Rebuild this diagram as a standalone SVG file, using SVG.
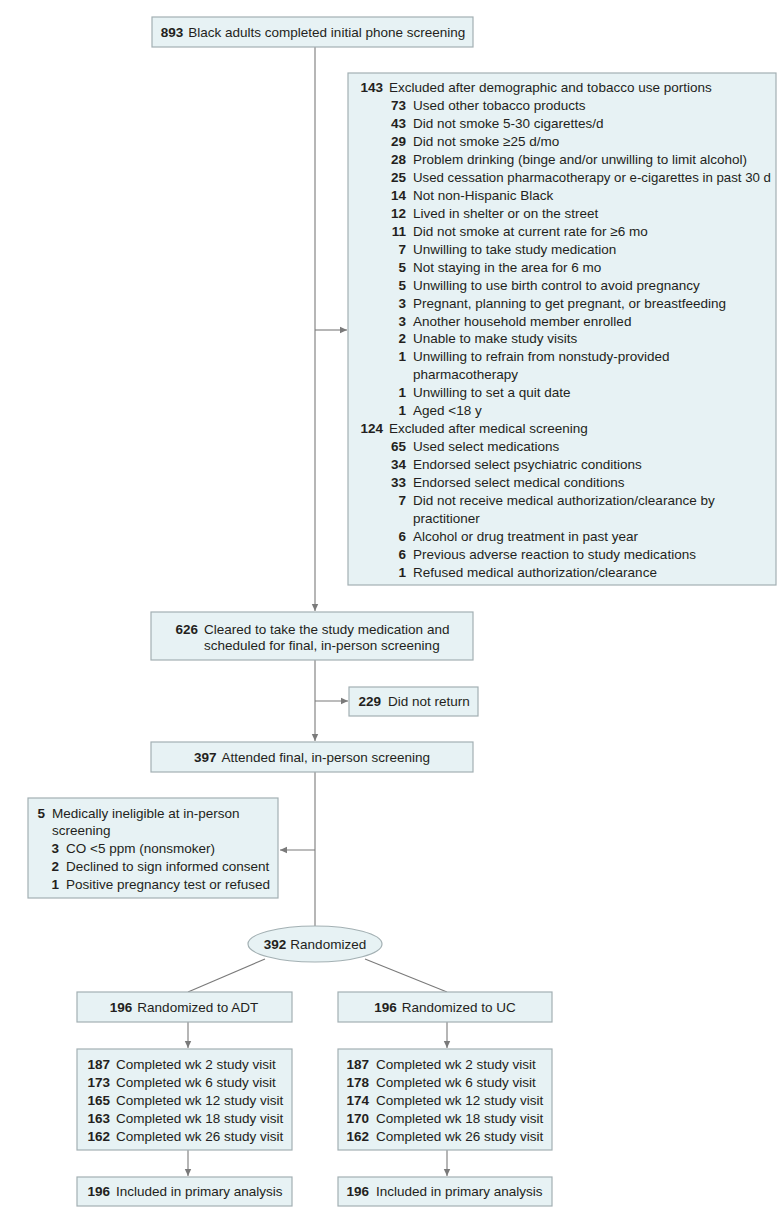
<svg xmlns="http://www.w3.org/2000/svg" width="780" height="1227" viewBox="0 0 780 1227">
<style>
.box{fill:#e7f2f4;stroke:#a3b0b3;stroke-width:1.2}
.ln{stroke:#7a7a7a;stroke-width:1.1;fill:none}
text{font-family:"Liberation Sans",Arial,sans-serif;font-size:13.5px;fill:#231f20}
.n{font-weight:bold;text-anchor:end}
.c{text-anchor:middle}
</style>
<defs>
<marker id="ar" markerWidth="8" markerHeight="8" refX="7" refY="4" orient="auto" markerUnits="userSpaceOnUse">
<path d="M0,0.8 L7,4 L0,7.2 Z" fill="#7a7a7a"/>
</marker>
</defs>
<rect width="780" height="1227" fill="#ffffff"/>
<g id="connectors">
<line class="ln" x1="315" y1="47" x2="315" y2="611" marker-end="url(#ar)"/>
<line class="ln" x1="315" y1="330" x2="347" y2="330" marker-end="url(#ar)"/>
<line class="ln" x1="315" y1="660" x2="315" y2="741" marker-end="url(#ar)"/>
<line class="ln" x1="315" y1="701" x2="348" y2="701" marker-end="url(#ar)"/>
<line class="ln" x1="315" y1="772" x2="315" y2="926"/>
<line class="ln" x1="315" y1="850" x2="280" y2="850" marker-end="url(#ar)"/>
<line class="ln" x1="265" y1="959" x2="188" y2="992"/>
<line class="ln" x1="365" y1="959" x2="447" y2="992"/>
<line class="ln" x1="188" y1="1022" x2="188" y2="1048" marker-end="url(#ar)"/>
<line class="ln" x1="447" y1="1022" x2="447" y2="1048" marker-end="url(#ar)"/>
<line class="ln" x1="188" y1="1150" x2="188" y2="1176" marker-end="url(#ar)"/>
<line class="ln" x1="447" y1="1150" x2="447" y2="1176" marker-end="url(#ar)"/>
</g>
<g id="n893">
<rect class="box" x="152" y="17" width="321" height="30"/>
<text x="313" y="37" class="c"><tspan font-weight="bold">893</tspan><tspan dx="5">Black adults completed initial phone screening</tspan></text>
</g>
<g id="excl1">
<rect class="box" x="348" y="73" width="428" height="512"/>
<text class="n" x="383" y="92">143</text><text x="389" y="92">Excluded after demographic and tobacco use portions</text>
<text class="n" x="406" y="110">73</text><text x="413" y="110">Used other tobacco products</text>
<text class="n" x="406" y="128">43</text><text x="413" y="128">Did not smoke 5-30 cigarettes/d</text>
<text class="n" x="406" y="146">29</text><text x="413" y="146">Did not smoke ≥25 d/mo</text>
<text class="n" x="406" y="164">28</text><text x="413" y="164">Problem drinking (binge and/or unwilling to limit alcohol)</text>
<text class="n" x="406" y="182">25</text><text x="413" y="182" textLength="358" lengthAdjust="spacingAndGlyphs">Used cessation pharmacotherapy or e-cigarettes in past 30 d</text>
<text class="n" x="406" y="200">14</text><text x="413" y="200">Not non-Hispanic Black</text>
<text class="n" x="406" y="218">12</text><text x="413" y="218">Lived in shelter or on the street</text>
<text class="n" x="406" y="236">11</text><text x="413" y="236">Did not smoke at current rate for ≥6 mo</text>
<text class="n" x="406" y="254">7</text><text x="413" y="254">Unwilling to take study medication</text>
<text class="n" x="406" y="272">5</text><text x="413" y="272">Not staying in the area for 6 mo</text>
<text class="n" x="406" y="290">5</text><text x="413" y="290">Unwilling to use birth control to avoid pregnancy</text>
<text class="n" x="406" y="308">3</text><text x="413" y="308">Pregnant, planning to get pregnant, or breastfeeding</text>
<text class="n" x="406" y="326">3</text><text x="413" y="326">Another household member enrolled</text>
<text class="n" x="406" y="343">2</text><text x="413" y="343">Unable to make study visits</text>
<text class="n" x="406" y="361">1</text><text x="413" y="361">Unwilling to refrain from nonstudy-provided</text>
<text x="413" y="379">pharmacotherapy</text>
<text class="n" x="406" y="397">1</text><text x="413" y="397">Unwilling to set a quit date</text>
<text class="n" x="406" y="415">1</text><text x="413" y="415">Aged &lt;18 y</text>
<text class="n" x="383" y="433">124</text><text x="389" y="433">Excluded after medical screening</text>
<text class="n" x="406" y="451">65</text><text x="413" y="451">Used select medications</text>
<text class="n" x="406" y="469">34</text><text x="413" y="469">Endorsed select psychiatric conditions</text>
<text class="n" x="406" y="487">33</text><text x="413" y="487">Endorsed select medical conditions</text>
<text class="n" x="406" y="505">7</text><text x="413" y="505">Did not receive medical authorization/clearance by</text>
<text x="413" y="523">practitioner</text>
<text class="n" x="406" y="541">6</text><text x="413" y="541">Alcohol or drug treatment in past year</text>
<text class="n" x="406" y="559">6</text><text x="413" y="559">Previous adverse reaction to study medications</text>
<text class="n" x="406" y="577">1</text><text x="413" y="577">Refused medical authorization/clearance</text>
</g>
<g id="n626">
<rect class="box" x="151" y="612" width="322" height="48"/>
<text class="n" x="198" y="634">626</text><text x="204" y="634">Cleared to take the study medication and</text>
<text x="204" y="650">scheduled for final, in-person screening</text>
</g>
<g id="n229">
<rect class="box" x="349" y="687" width="129" height="29"/>
<text class="n" x="381" y="706">229</text><text x="388" y="706">Did not return</text>
</g>
<g id="n397">
<rect class="box" x="151" y="742" width="322" height="30"/>
<text x="312" y="762" class="c"><tspan font-weight="bold">397</tspan><tspan dx="5">Attended final, in-person screening</tspan></text>
</g>
<g id="excl2">
<rect class="box" x="28" y="798" width="250" height="100"/>
<text class="n" x="45" y="818">5</text><text x="52" y="818">Medically ineligible at in-person</text>
<text x="52" y="835">screening</text>
<text class="n" x="59" y="853">3</text><text x="66" y="853">CO &lt;5 ppm (nonsmoker)</text>
<text class="n" x="59" y="871">2</text><text x="66" y="871">Declined to sign informed consent</text>
<text class="n" x="59" y="889">1</text><text x="66" y="889">Positive pregnancy test or refused</text>
</g>
<g id="n392">
<ellipse class="box" cx="315" cy="944" rx="67" ry="18"/>
<text x="315" y="949" class="c"><tspan font-weight="bold">392</tspan><tspan dx="4">Randomized</tspan></text>
</g>
<g id="adt">
<rect class="box" x="77" y="992" width="215" height="30"/>
<text x="184" y="1012" class="c"><tspan font-weight="bold">196</tspan><tspan dx="5">Randomized to ADT</tspan></text>
</g>
<g id="uc">
<rect class="box" x="338" y="992" width="214" height="30"/>
<text x="445" y="1012" class="c"><tspan font-weight="bold">196</tspan><tspan dx="5">Randomized to UC</tspan></text>
</g>
<g id="adtvisits">
<rect class="box" x="77" y="1049" width="215" height="101"/>
<text class="n" x="110" y="1069">187</text><text x="116" y="1069">Completed wk 2 study visit</text>
<text class="n" x="110" y="1087">173</text><text x="116" y="1087">Completed wk 6 study visit</text>
<text class="n" x="110" y="1105">165</text><text x="116" y="1105">Completed wk 12 study visit</text>
<text class="n" x="110" y="1123">163</text><text x="116" y="1123">Completed wk 18 study visit</text>
<text class="n" x="110" y="1141">162</text><text x="116" y="1141">Completed wk 26 study visit</text>
</g>
<g id="ucvisits">
<rect class="box" x="338" y="1049" width="214" height="101"/>
<text class="n" x="369" y="1069">187</text><text x="376" y="1069">Completed wk 2 study visit</text>
<text class="n" x="369" y="1087">178</text><text x="376" y="1087">Completed wk 6 study visit</text>
<text class="n" x="369" y="1105">174</text><text x="376" y="1105">Completed wk 12 study visit</text>
<text class="n" x="369" y="1123">170</text><text x="376" y="1123">Completed wk 18 study visit</text>
<text class="n" x="369" y="1141">162</text><text x="376" y="1141">Completed wk 26 study visit</text>
</g>
<g id="adtprim">
<rect class="box" x="77" y="1177" width="215" height="29"/>
<text class="n" x="110" y="1196">196</text><text x="116" y="1196">Included in primary analysis</text>
</g>
<g id="ucprim">
<rect class="box" x="338" y="1177" width="214" height="29"/>
<text class="n" x="369" y="1196">196</text><text x="376" y="1196">Included in primary analysis</text>
</g>
</svg>
